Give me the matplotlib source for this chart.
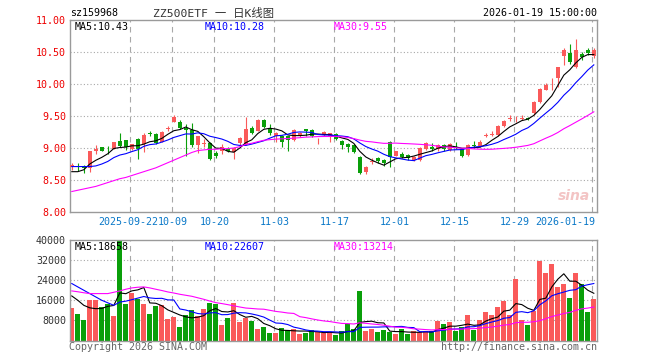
import matplotlib
matplotlib.use("Agg")
import matplotlib.pyplot as plt
import numpy as np
import pandas as pd

# ---------------- data ----------------
opens = [8.70, 8.71, 8.70, 8.68, 8.96, 9.01, 8.99, 8.99, 9.11, 9.12,
         8.98, 9.14, 9.07, 9.23, 9.22, 9.10, 9.30, 9.41, 9.40, 9.31,
         9.28, 9.04, 9.06, 9.08, 8.92, 8.95, 8.99, 8.94, 9.08, 9.06,
         9.32, 9.27, 9.44, 9.32, 9.18, 9.19, 9.18, 9.12, 9.19, 9.29,
         9.28, 9.12, 9.20, 9.18, 9.22, 9.11, 9.06, 9.05, 8.86, 8.63,
         8.78, 8.84, 8.81, 9.10, 8.88, 8.91, 8.89, 8.82, 8.82, 8.98,
         9.02, 8.99, 9.04, 8.97, 9.02, 8.99, 8.89, 9.04, 9.03, 9.19,
         9.21, 9.20, 9.35, 9.45, 9.43, 9.46, 9.47, 9.55, 9.72, 9.91,
         9.98, 10.09, 10.43, 10.48, 10.27, 10.47, 10.53, 10.44]
closes = [8.73, 8.70, 8.68, 8.95, 8.98, 8.96, 8.98, 9.09, 9.03, 9.01,
          9.06, 8.99, 9.21, 9.22, 9.08, 9.25, 9.31, 9.49, 9.31, 9.28,
          9.04, 9.18, 9.07, 8.83, 8.87, 9.02, 8.95, 9.00, 9.16, 9.29,
          9.24, 9.44, 9.33, 9.24, 9.23, 9.10, 9.12, 9.28, 9.24, 9.26,
          9.18, 9.13, 9.25, 9.23, 9.14, 9.04, 9.01, 8.94, 8.61, 8.70,
          8.79, 8.80, 8.76, 8.86, 8.95, 8.86, 8.84, 8.86, 9.00, 9.08,
          8.99, 9.05, 8.98, 9.07, 9.00, 8.88, 9.05, 9.03, 9.10, 9.20,
          9.22, 9.35, 9.42, 9.46, 9.44, 9.47, 9.46, 9.72, 9.92, 9.99,
          9.99, 10.26, 10.53, 10.34, 10.53, 10.42, 10.48, 10.53]
highs = [8.76, 8.77, 8.74, 8.96, 9.05, 9.02, 9.03, 9.10, 9.24, 9.13,
         9.07, 9.15, 9.23, 9.27, 9.23, 9.26, 9.34, 9.51, 9.44, 9.38,
         9.39, 9.19, 9.14, 9.09, 8.96, 9.06, 9.02, 9.01, 9.17, 9.48,
         9.35, 9.45, 9.46, 9.37, 9.25, 9.20, 9.19, 9.29, 9.25, 9.30,
         9.30, 9.15, 9.27, 9.24, 9.24, 9.12, 9.08, 9.07, 8.87, 8.72,
         8.84, 8.86, 8.83, 9.11, 8.96, 8.93, 8.90, 8.87, 9.01, 9.09,
         9.08, 9.07, 9.06, 9.08, 9.09, 9.00, 9.06, 9.11, 9.12, 9.24,
         9.26, 9.36, 9.44, 9.51, 9.50, 9.51, 9.49, 9.73, 9.93, 10.02,
         10.09, 10.27, 10.56, 10.62, 10.71, 10.50, 10.57, 10.57]
lows = [8.66, 8.64, 8.61, 8.62, 8.91, 8.95, 8.91, 8.98, 9.02, 8.97,
        8.97, 8.83, 8.94, 9.18, 9.07, 9.09, 9.26, 9.40, 9.30, 8.88,
        9.02, 8.92, 9.02, 8.81, 8.85, 8.91, 8.93, 8.83, 9.05, 9.05,
        9.22, 9.26, 9.32, 9.20, 9.09, 9.02, 8.96, 9.11, 9.17, 9.19,
        9.17, 9.06, 9.18, 9.10, 9.12, 8.98, 8.94, 8.92, 8.60, 8.59,
        8.75, 8.76, 8.72, 8.70, 8.87, 8.84, 8.82, 8.80, 8.80, 8.97,
        8.95, 8.95, 8.96, 8.96, 8.98, 8.86, 8.88, 9.00, 9.02, 9.17,
        9.18, 9.19, 9.33, 9.42, 9.40, 9.43, 9.44, 9.52, 9.71, 9.90,
        9.91, 9.96, 10.30, 10.31, 10.25, 10.37, 10.45, 10.40]
volumes = [12930, 10400, 8000, 16000, 16000, 13330, 14670, 9730, 41000, 14400,
           18930, 16670, 14400, 10400, 13730, 14000, 8400, 9330, 5330, 10000,
           12000, 9730, 12400, 15070, 14400, 6000, 8930, 14930, 7330, 9070,
           7730, 4400, 5330, 2930, 2930, 4800, 4000, 4670, 2400, 2930,
           4000, 3330, 3070, 2930, 2000, 3600, 6400, 4400, 19600, 3600,
           4400, 3330, 4000, 3330, 2670, 4400, 2400, 3600, 3330, 3600,
           3600, 7600, 6400, 7330, 3600, 5330, 10000, 4000, 8000, 11330,
           10000, 13330, 15730, 10000, 24400, 8000, 6000, 11600, 31730, 26930,
           30400, 21330, 22400, 16930, 26930, 22400, 11330, 16400]

# moving-average values at the start of the window (their history lies before the chart)
p_ma5_head = [8.63, 8.63, 8.66, 8.75]
p_ma10_head = [8.71, 8.71, 8.71, 8.71, 8.72, 8.75, 8.79, 8.85, 8.89]
p_ma30_head = [8.32, 8.34, 8.36, 8.38, 8.40, 8.43, 8.46, 8.49, 8.52, 8.54,
               8.57, 8.60, 8.63, 8.66, 8.69, 8.73, 8.77, 8.81, 8.85, 8.89,
               8.93, 8.96, 8.97, 8.98, 8.98, 8.99, 8.99, 9.00, 9.02]
v_ma5_head = [17730, 16000, 14000, 13000]
v_ma10_head = [22670, 21330, 20000, 18670, 17330, 16000, 15000, 14000, 15300]
v_ma30_head = [19730, 19400, 19000, 18670, 18670, 18670, 18670, 19200, 19730, 20400,
               20930, 21200, 21330, 20930, 20400, 19900, 19330, 18900, 18400, 18000,
               17600, 17000, 16400, 15700, 15070, 14700, 14270, 13800, 13330]

date_labels = ["2025-09-22", "10-09", "10-20", "11-03", "11-17",
               "12-01", "12-15", "12-29", "2026-01-19"]
date_index = [10, 17, 24, 34, 44, 54, 64, 74, 87]
price_ticks = [11.00, 10.50, 10.00, 9.50, 9.00, 8.50, 8.00]
vol_ticks = [40000, 32000, 24000, 16000, 8000]
price_ma_text = ["MA5:10.43", "MA10:10.28", "MA30:9.55"]
vol_ma_text = ["MA5:18658", "MA10:22607", "MA30:13214"]
code_text = "sz159968"
title_text = "ZZ500ETF 一 日K线图"
time_text = "2026-01-19 15:00:00"

# ---------------- helpers ----------------
def ma(values, n, head):
    s = pd.Series(values, dtype=float).rolling(n).mean().to_numpy()
    s[:len(head)] = head
    return s

RED = "#fa5a5a"
GREEN = "#0a9f0a"
GRID = "#a8a8a8"
MONO = ["DejaVu Sans Mono", "Noto Sans CJK SC"]
W, H = 660, 360

o = np.array(opens); c = np.array(closes)
hi = np.array(highs); lo = np.array(lows); v = np.array(volumes)
n = len(o)
x = np.arange(n)
up = c >= o
cols = np.where(up, RED, GREEN)

fig = plt.figure(figsize=(W / 100, H / 100), dpi=100)
fig.patch.set_facecolor("white")

def px(xp, yp):
    return xp / W, 1 - yp / H

XL = (-0.3, 87.53)
L, R = 70, 597
LW = 0.8

def frame(ax):
    ax.set_xlim(*XL)
    ax.set_xticks([]); ax.set_yticks([])
    for s in ax.spines.values():
        s.set_color("#9a9a9a"); s.set_linewidth(1.0)
    for di in date_index:
        ax.axvline(di - 0.25, color=GRID, lw=LW, ls=(0, (5, 4)), zorder=0)

# ---------------- price panel ----------------
top, bot = 20, 212
axp = fig.add_axes([L / W, 1 - bot / H, (R - L) / W, (bot - top) / H])
frame(axp)
axp.set_ylim(8.0, 11.0)
for t in price_ticks[1:-1]:
    axp.axhline(t, color=GRID, lw=LW, ls=(0, (1, 2)), zorder=0)
axp.vlines(x, lo, hi, colors=cols, lw=LW, zorder=2)
body_lo = np.minimum(o, c)
body_h = np.maximum(np.abs(c - o), 0.012)
axp.bar(x, body_h, bottom=body_lo, width=0.75, color=cols, linewidth=0, zorder=3)
axp.plot(x, ma(closes, 5, p_ma5_head), color="black", lw=LW, zorder=4)
axp.plot(x, ma(closes, 10, p_ma10_head), color="#0000ff", lw=LW, zorder=4)
axp.plot(x, ma(closes, 30, p_ma30_head), color="#ff00ff", lw=LW, zorder=4)

for t in price_ticks:
    yy = top + (11.0 - t) / 3.0 * (bot - top)
    fig.text(*px(66, yy + 1), f"{t:.2f}", color="#ee0000", fontsize=7.2,
             family=MONO, ha="right", va="center")

# ---------------- volume panel ----------------
vtop, vbot = 240, 340.5
axv = fig.add_axes([L / W, 1 - vbot / H, (R - L) / W, (vbot - vtop) / H])
frame(axv)
axv.set_ylim(0, 40000)
for t in vol_ticks[1:]:
    axv.axhline(t, color=GRID, lw=LW, ls=(0, (1, 2)), zorder=0)
axv.bar(x, v, width=0.78, color=cols, linewidth=0, zorder=2)
axv.plot(x, ma(volumes, 5, v_ma5_head), color="black", lw=LW, zorder=4)
axv.plot(x, ma(volumes, 10, v_ma10_head), color="#0000ff", lw=LW, zorder=4)
axv.plot(x, ma(volumes, 30, v_ma30_head), color="#ff00ff", lw=LW, zorder=4)

for t in vol_ticks:
    yy = vtop + (40000 - t) / 40000 * (vbot - vtop)
    fig.text(*px(66, yy + 1), f"{t}", color="#333333", fontsize=7.2,
             family=MONO, ha="right", va="center")

# ---------------- x labels ----------------
for k, (lab, di) in enumerate(zip(date_labels, date_index)):
    xp = 71.8 + 6 * di - 1.5
    if k == len(date_index) - 1:
        fig.text(*px(595, 222), lab, color="#0a78c8", fontsize=7.2, family=MONO,
                 ha="right", va="center")
    elif k == 0:
        fig.text(*px(xp + 28, 222), lab, color="#0a78c8", fontsize=7.2, family=MONO,
                 ha="right", va="center")
    else:
        fig.text(*px(xp, 222), lab, color="#0a78c8", fontsize=7.2, family=MONO,
                 ha="center", va="center")

# ---------------- header / legends ----------------
fig.text(*px(70, 13), code_text, color="black", fontsize=7.2, family=MONO, va="center")
fig.text(*px(214, 13), title_text, color="#333333", fontsize=8.2,
         family=MONO, ha="center", va="center")
fig.text(*px(597, 13), time_text, color="black", fontsize=7.2, family=MONO,
         ha="right", va="center")

ma_cols = ["black", "#0000ff", "#ff00ff"]
ma_x = [75, 205, 334]
for txt, cc, xx in zip(price_ma_text, ma_cols, ma_x):
    fig.text(*px(xx, 26.5), txt, color=cc, fontsize=7.2, family=MONO, va="center")
for txt, cc, xx in zip(vol_ma_text, ma_cols, ma_x):
    fig.text(*px(xx, 246.5), txt, color=cc, fontsize=7.2, family=MONO, va="center")

fig.text(*px(69, 347), "Copyright 2026 SINA.COM", color="#666666", fontsize=7.2,
         family=MONO, va="center")
fig.text(*px(597, 347), "http://finance.sina.com.cn", color="#666666", fontsize=7.2,
         family=MONO, ha="right", va="center")

# sina watermark
fig.text(*px(574, 196), "sina", color="#f3c4c4", fontsize=10, weight="bold",
         style="italic", ha="center", va="center")

fig.savefig("out.png", dpi=100, facecolor="white")
